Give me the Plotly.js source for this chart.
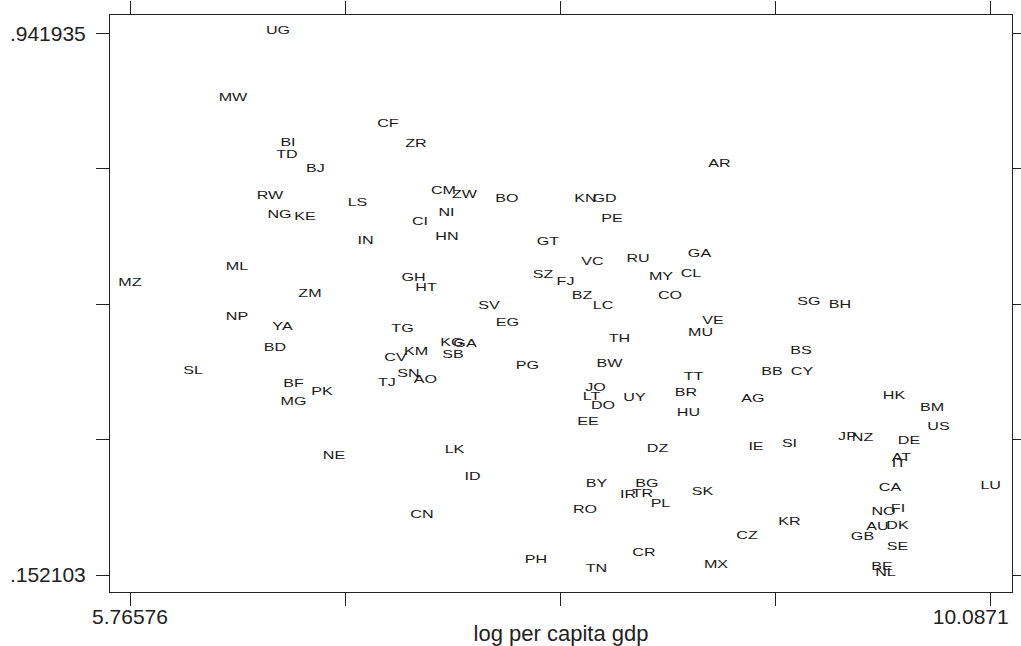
<!DOCTYPE html>
<html><head><meta charset="utf-8">
<script src="https://cdn.plot.ly/plotly-3.0.1.min.js"></script>
<style>html,body{margin:0;padding:0;background:#fff}</style>
</head><body>
<div id="chart" style="width:1021px;height:646px"></div>
<script>
// country codes (marker labels)
const codes = ['UG','MW','BI','TD','BJ','CF','ZR','AR','RW','NG','KE','LS','CM','ZW','NI','CI','HN','IN','BO','KN','GD','PE','GT','VC','RU','GA','MY','CL','SZ','FJ','BZ','LC','CO','ML','MZ','GH','HT','ZM','SG','BH','SV','EG','NP','YA','TG','VE','MU','TH','BD','KM','KG','GA','SB','CV','SN','AO','SL','TJ','BF','PK','MG','PG','BW','BS','BB','CY','JO','LT','DO','UY','TT','BR','AG','HU','HK','BM','US','EE','NE','LK','DZ','IE','SI','JP','NZ','DE','AT','IT','ID','BY','BG','IR','TR','PL','SK','CA','LU','RO','CN','NO','FI','KR','AU','DK','CZ','GB','SE','PH','CR','TN','MX','BE','NL'];
// log per capita gdp
const logGdp = [6.5088,6.2829,6.5590,6.5540,6.6971,7.0611,7.2017,8.7255,6.4687,6.5164,6.6444,6.9080,7.3398,7.4452,7.3548,7.2218,7.3573,6.9481,7.6586,8.0527,8.1481,8.1857,7.8644,8.0878,8.3163,8.6251,8.4318,8.5824,7.8393,7.9523,8.0351,8.1405,8.4769,6.3030,5.76576,7.1891,7.2519,6.6695,9.1748,9.3305,7.5682,7.6611,6.3030,6.5314,7.1339,8.6928,8.6301,8.2234,6.4938,7.2017,7.3824,7.4477,7.3875,7.0988,7.1640,7.2494,6.0821,7.0561,6.5866,6.7297,6.5866,7.7615,8.1732,9.1347,8.9891,9.1397,8.1029,8.0828,8.1405,8.2987,8.5949,8.5573,8.8937,8.5698,9.6016,9.7924,9.8250,8.0652,6.7900,7.3950,8.4142,8.9087,9.0769,9.3681,9.4434,9.6769,9.6392,9.6267,7.4854,8.1079,8.3615,8.2661,8.3389,8.4292,8.6401,9.5815,10.0871,8.0502,7.2318,9.5489,9.6217,9.0769,9.5187,9.6192,8.8635,9.4434,9.6192,7.8042,8.3464,8.1079,8.7079,9.5413,9.5589];
// y variable
const yVal = [0.941935,0.8447,0.7791,0.7616,0.7412,0.8068,0.7769,0.7485,0.7018,0.6741,0.6712,0.6909,0.7091,0.7032,0.6770,0.6639,0.6420,0.6355,0.6974,0.6974,0.6974,0.6682,0.6340,0.6048,0.6092,0.6165,0.5830,0.5881,0.5859,0.5757,0.5553,0.5407,0.5553,0.5983,0.5749,0.5822,0.5677,0.5589,0.5465,0.5429,0.5407,0.5166,0.5246,0.5100,0.5079,0.5188,0.5020,0.4926,0.4802,0.4743,0.4875,0.4853,0.4700,0.4656,0.4423,0.4335,0.4466,0.4291,0.4277,0.4160,0.4014,0.4532,0.4561,0.4751,0.4444,0.4444,0.4211,0.4080,0.3949,0.4065,0.4372,0.4146,0.4051,0.3854,0.4095,0.3920,0.3643,0.3723,0.3227,0.3307,0.3322,0.3358,0.3395,0.3497,0.3489,0.3446,0.3198,0.3110,0.2913,0.2811,0.2819,0.2651,0.2666,0.2520,0.2695,0.2753,0.2790,0.2432,0.2367,0.2403,0.2447,0.2257,0.2184,0.2206,0.2061,0.2046,0.1893,0.1703,0.1813,0.1572,0.1638,0.1601,0.152103];
// tick values and labels
const xTickVals = [5.76576, 6.846095, 7.92643, 9.006765, 10.0871];
const xTickText = ['5.76576', '', '', '', '10.0871'];
const yTickVals = [0.152103, 0.349561, 0.547019, 0.744477, 0.941935];
const yTickText = ['.152103', '', '', '', '.941935'];
const xTitle = 'log per capita gdp';

const FONT = 'Liberation Sans, Arial, Helvetica, sans-serif';

const trace = {
  type: 'scatter', mode: 'text',
  x: logGdp, y: yVal, text: codes,
  textposition: 'middle center',
  textfont: {family: FONT, size: 11.5, color: '#1a1a1a'},
  hoverinfo: 'skip', cliponaxis: false
};
const axisCommon = {
  tickmode: 'array', ticks: 'outside', ticklen: 13, tickwidth: 1, tickcolor: '#222',
  showline: true, linecolor: '#222', linewidth: 1, mirror: 'ticks',
  showgrid: false, zeroline: false, automargin: false, ticklabeloverflow: 'allow',
  tickfont: {family: FONT, size: 21, color: '#222'}
};
const layout = {
  width: 1021, height: 646,
  margin: {l: 110, r: 9, t: 15, b: 54},
  paper_bgcolor: '#fff', plot_bgcolor: '#fff',
  showlegend: false,
  xaxis: Object.assign({}, axisCommon, {
    range: [5.66535, 10.1940], tickvals: xTickVals, ticktext: xTickText,
    ticklabelstandoff: -7,
    title: {text: xTitle, font: {family: FONT, size: 22, color: '#222'}, standoff: 4}
  }),
  yaxis: Object.assign({}, axisCommon, {
    range: [0.12732, 0.96861], tickvals: yTickVals, ticktext: yTickText,
    ticklabelstandoff: 6
  })
};
function adjust() {
  // marker labels: wide lettering, centred on the point as in the reference
  const s = 1.4;
  document.querySelectorAll('#chart .textpoint text').forEach(t => {
    const x = parseFloat(t.getAttribute('x')) || 0;
    t.setAttribute('transform', 'translate(' + (x * (1 - s)) + ',-2) scale(' + s + ',1)');
  });
  // the last x tick label is pulled left so it stays inside the frame
  document.querySelectorAll('#chart .xtick text').forEach(t => {
    if (t.textContent === xTickText[xTickText.length - 1]) t.setAttribute('dx', '-20');
  });
}
const gd = document.getElementById('chart');
Plotly.newPlot(gd, [trace], layout, {staticPlot: true, displayModeBar: false}).then(() => {
  adjust();
  gd.on('plotly_afterplot', adjust);
});
</script>
</body></html>
